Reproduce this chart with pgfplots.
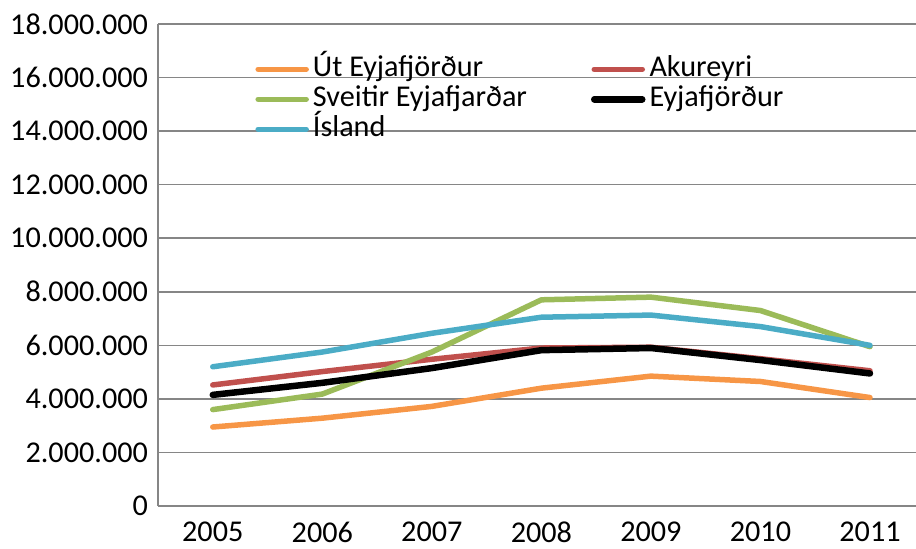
\documentclass[border=0pt]{standalone}
\usepackage{pgfplots}
\pgfplotsset{compat=1.18}
\usepackage{fontspec}
\setmainfont{Carlito}
\definecolor{cOrange}{RGB}{247,150,70}
\definecolor{cRed}{RGB}{192,80,77}
\definecolor{cGreen}{RGB}{155,187,89}
\definecolor{cBlue}{RGB}{75,172,198}
\definecolor{gridgray}{RGB}{134,134,134}
\begin{document}
\begin{tikzpicture}[font=\fontsize{15.1}{18}\selectfont]
\begin{axis}[
  scale only axis,
  width=379pt, height=241pt,
  xmin=-0.5, xmax=6.42,
  ymin=0, ymax=18000000,
  ytick={0,2000000,...,18000000},
  xtick={0,1,2,3,4,5,6},
  xticklabels={2005,2006,2007,2008,2009,2010,2011},
  scaled y ticks=false,
  yticklabel style={xshift=-1.5pt, /pgf/number format/fixed, /pgf/number format/1000 sep={.}, /pgf/number format/assume math mode=true},
  xticklabel style={yshift=-4.5pt},
  major tick length=0pt,
  axis x line*=bottom, axis y line*=left,
  axis line style={gridgray, line width=0.75pt, -},
  ymajorgrids,
  grid style={gridgray, line width=0.75pt},
  legend columns=2,
  legend style={at={(rel axis cs:0.128,0.938)}, anchor=north west, draw=none, fill=none, inner sep=0pt,
    nodes={anchor=west, text height=10pt, text depth=3pt, inner sep=1pt},
    /tikz/every even column/.append style={column sep=31pt}},
  legend cell align=left,
  legend image code/.code={\draw[#1, line cap=round] (0pt,0pt) -- (24pt,0pt); \path (25pt,0pt);},
  every axis plot/.append style={line width=2.75pt, line join=round, line cap=round},
]
\addplot[cOrange] coordinates {(0,2950000) (1,3280000) (2,3720000) (3,4400000) (4,4850000) (5,4650000) (6,4050000)};
\addlegendentry{Út Eyjafjörður}
\addplot[cRed] coordinates {(0,4520000) (1,5020000) (2,5480000) (3,5900000) (4,5930000) (5,5500000) (6,5050000)};
\addlegendentry{Akureyri}
\addplot[cGreen] coordinates {(0,3600000) (1,4180000) (2,5750000) (3,7700000) (4,7800000) (5,7300000) (6,5950000)};
\addlegendentry{Sveitir Eyjafjarðar}
\addplot[black, line width=3.25pt] coordinates {(0,4150000) (1,4600000) (2,5150000) (3,5820000) (4,5900000) (5,5450000) (6,4950000)};
\addlegendentry{Eyjafjörður}
\addplot[cBlue] coordinates {(0,5200000) (1,5750000) (2,6450000) (3,7050000) (4,7130000) (5,6700000) (6,6000000)};
\addlegendentry{Ísland}
\coordinate (ll) at (rel axis cs:0,0);
\coordinate (ur) at (rel axis cs:1,1);
\end{axis}
\pgfresetboundingbox
\path ([xshift=-79pt, yshift=-21pt]ll) rectangle ([yshift=12pt]ur);
\end{tikzpicture}
\end{document}
